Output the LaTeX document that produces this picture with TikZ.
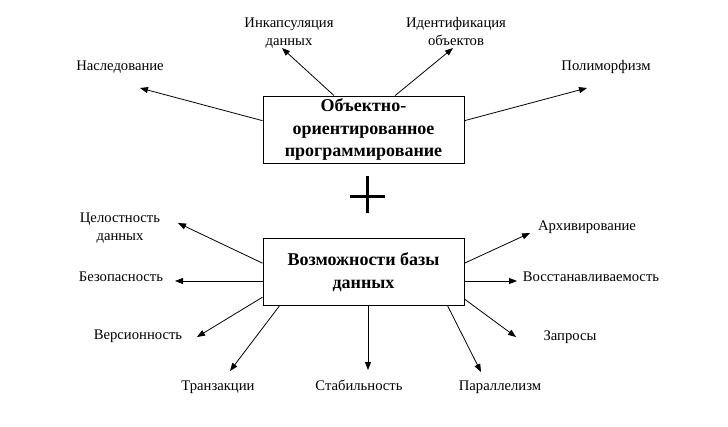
\documentclass[tikz,border=0pt]{standalone}
\usepackage{fontspec}
\setmainfont{Liberation Serif}
\usepackage{tikz}
\usetikzlibrary{arrows.meta,positioning}
\tikzstyle{arrow} = [line width=0.6pt,-{Triangle[length=6pt,width=4.5pt]}]
\tikzstyle{topic} = [rectangle, draw, line width=0.75pt, minimum width=150.75pt, minimum height=50.25pt, align=center, inner sep=0pt, font=\fontsize{13.5}{17}\selectfont\bfseries]
\tikzstyle{feature} = [align=center, inner sep=0pt, font=\fontsize{11}{13.5}\selectfont]

\begin{document}
\begin{tikzpicture}[x=0.75pt,y=-0.75pt]
\useasboundingbox (0,0) rectangle (728,426);

% Topics
\node (oop) [topic] at (363.5,129.5) {Объектно-\\ориентированное\\программирование};
\node (db) [topic] at (363.5,272) {Возможности базы\\данных};

% Plus
\coordinate (plus) at (367,196);
\draw[line width=2.25pt] ([yshift=15pt]plus) -- ([yshift=-12.75pt]plus);
\draw[line width=2.25pt] ([xshift=-12.75pt]plus) -- ([xshift=13.5pt]plus);

% OOP features
\node (inh) [feature] at (120,67) {Наследование};
\node (enc) [feature] at (289,33) {Инкапсуляция\\данных};
\node (ident) [feature] at (456,31) {Идентификация\\объектов};
\node (poly) [feature] at (606,67) {Полиморфизм};

\coordinate (t-inh) at (140,88);
\coordinate (t-enc) at (282,48);
\coordinate (t-ident) at (453,48);
\coordinate (t-poly) at (587,88);

\draw[arrow] (oop.175) -- (t-inh);
\draw[arrow] (oop.131.5) -- (t-enc);
\draw[arrow] (oop.47.6) -- (t-ident);
\draw[arrow] (oop.5.4) -- (t-poly);

% Database features
\node (integ) [feature] at (120,228.5) {Целостность\\данных};
\node (sec) [feature] at (121,277) {Безопасность};
\node (ver) [feature] at (138,336) {Версионность};
\node (trans) [feature] at (218,387) {Транзакции};
\node (stab) [feature] at (359,385) {Стабильность};
\node (par) [feature] at (500,387) {Параллелизм};
\node (query) [feature] at (570,337) {Запросы};
\node (recov) [feature] at (591,277) {Восстанавливаемость};
\node (arch) [feature] at (587,227) {Архивирование};

\coordinate (t-integ) at (178,223);
\coordinate (t-sec) at (175,281);
\coordinate (t-ver) at (197,337);
\coordinate (t-trans) at (230,371);
\coordinate (t-stab) at (368,370);
\coordinate (t-par) at (481,372);
\coordinate (t-query) at (516,337);
\coordinate (t-recov) at (517,281);
\coordinate (t-arch) at (530,233);

\draw[arrow] (db.175.4) -- (t-integ);
\draw[arrow] (db.west |- t-sec) -- (t-sec);
\draw[arrow] (db.194.5) -- (t-ver);
\draw[arrow] (db.202.4) -- (t-trans);
\draw[arrow] (t-stab |- db.south) -- (t-stab);
\draw[arrow] (db.338.1) -- (t-par);
\draw[arrow] (db.345.5) -- (t-query);
\draw[arrow] (db.east |- t-recov) -- (t-recov);
\draw[arrow] (db.5.1) -- (t-arch);
\end{tikzpicture}
\end{document}
